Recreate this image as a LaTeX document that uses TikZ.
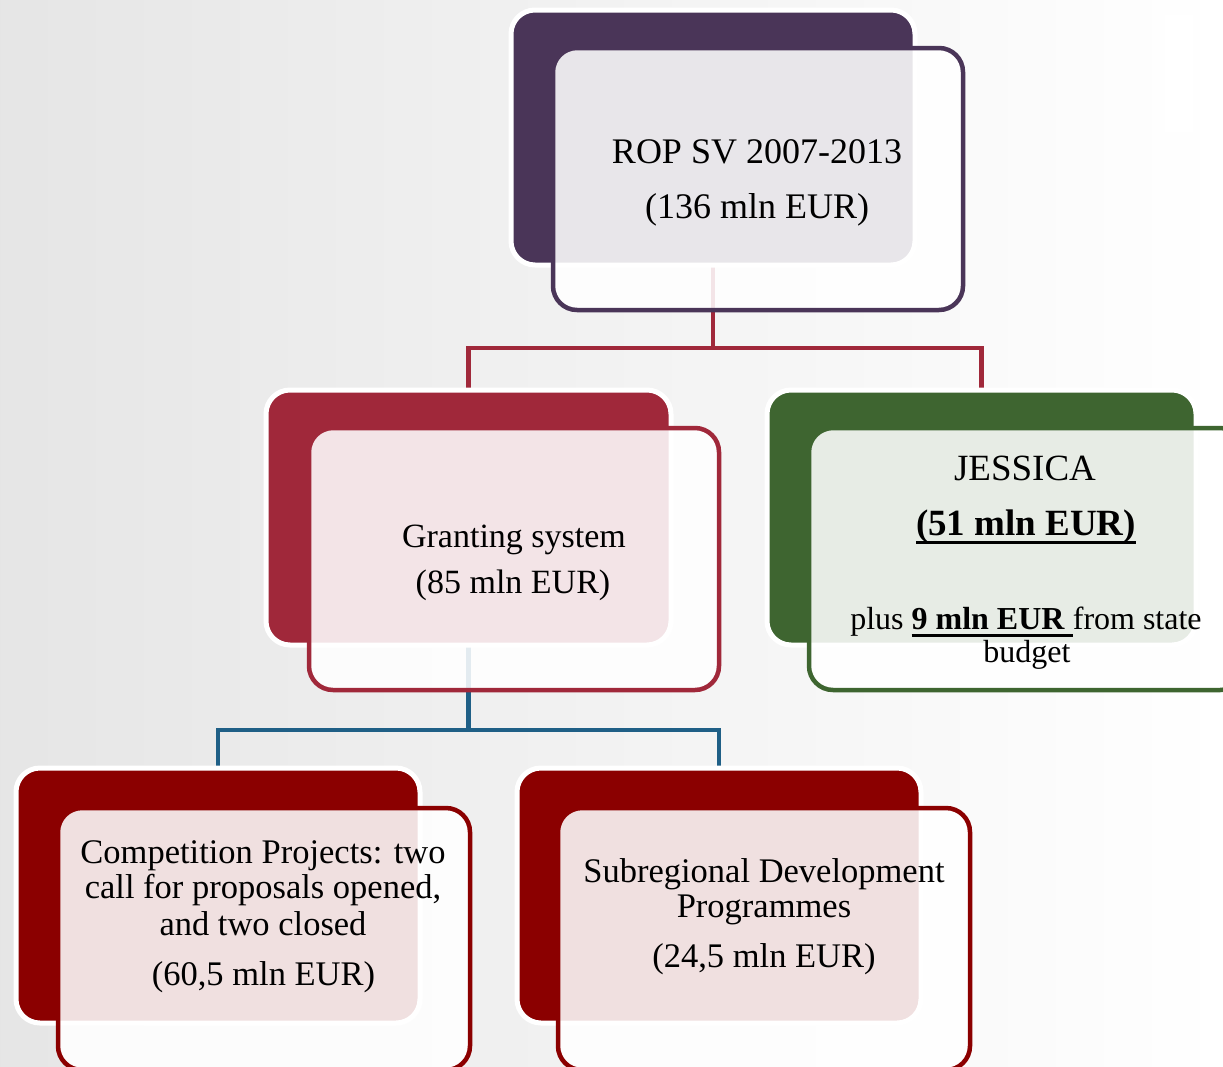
\documentclass[tikz,border=0pt]{standalone}
\usepackage{fontspec}
\setmainfont{Liberation Serif}
\definecolor{cPurple}{HTML}{4A3558}
\definecolor{cCrimson}{HTML}{A0283A}
\definecolor{cGreen}{HTML}{3E6530}
\definecolor{cDark}{HTML}{8B0000}
\definecolor{cBlue}{HTML}{1F5F86}
\newcommand\myul[2]{\setbox0\hbox{#2}\rlap{\rule[#1]{\wd0}{2.6pt}}\box0}
\pgfdeclarelayer{bglayer}
\pgfdeclarelayer{linklayer}
\pgfsetlayers{bglayer,linklayer,main}
\begin{document}
\begin{tikzpicture}[x=1pt,y=-1pt,
  backbox/.style={rectangle, rounded corners=24pt, inner sep=0pt, outer sep=0pt,
    minimum width=404pt, minimum height=255pt, fill=#1, draw=white, line width=5pt},
  frontbox/.style={rectangle, rounded corners=24pt, inner sep=0pt, outer sep=0pt,
    minimum width=410pt, minimum height=262pt, fill=white, fill opacity=0.88,
    draw=#1, draw opacity=1, line width=4.5pt},
  link/.style={line width=4.5pt, draw=#1, line join=miter},
  txt/.style={anchor=base, inner sep=0pt, text=black, font=\fontsize{#1}{#1}\selectfont}]
\useasboundingbox (0,0) rectangle (1223,1066);
\clip (0,0) rectangle (1223,1066);
\begin{pgfonlayer}{bglayer}
  \shade[left color=gray!20, right color=white] (0,0) rectangle (1223,1066);
  \fill[white] (1165,15) rectangle (1193,132);
\end{pgfonlayer}

% top
\node[backbox=cPurple] (topB) at (713,137.5) {};
\node[frontbox=cPurple] (topF) at (758,179) {};
% granting
\node[backbox=cCrimson, minimum width=405pt] (gsB) at (468.5,517.5) {};
\node[frontbox=cCrimson] (gsF) at (514,559) {};
% jessica
\node[backbox=cGreen, minimum width=429pt] (jsB) at (981.5,517.5) {};
\node[frontbox=cGreen, minimum width=435pt] (jsF) at (1026.5,559) {};
% competition
\node[backbox=cDark] (cpB) at (218,895.5) {};
\node[frontbox=cDark, minimum width=412pt] (cpF) at (264,939) {};
% subregional
\node[backbox=cDark] (sbB) at (719,895.5) {};
\node[frontbox=cDark, minimum width=412pt] (sbF) at (764,939) {};

\coordinate (jA) at (713,348);
\coordinate (jB) at (468.5,730);
\begin{pgfonlayer}{linklayer}
  \draw[link=cCrimson] (topB.south) -- (jA);
  \draw[link=cCrimson] (gsB.north) |- (jA) -| (jsB.north);
  \draw[link=cBlue] (gsB.south) -- (jB);
  \draw[link=cBlue] (cpB.north) |- (jB) -| (sbB.north);
\end{pgfonlayer}

\node[txt=36] (t1) at (757,163) {ROP SV 2007-2013};
\node[txt=36] (t2) at (757,218) {(136 mln EUR)};
\node[txt=34] (g1) at (514,547) {Granting system};
\node[txt=34] (g2) at (513,593) {(85 mln EUR)};
\node[txt=37] (j1) at (1025,480) {JESSICA};
\node[txt=37] (j2) at (1026,535) {\myul{-8.5pt}{\textbf{(51 mln EUR)}}};
\node[txt=32] (j3) at (1026,629) {plus \myul{-7.5pt}{\textbf{9 mln EUR}\ }from state};
\node[txt=32] (j4) at (1027,662) {budget};
\node[txt=34.5] (c1) at (263,863) {Competition Projects: two};
\node[txt=34.5] (c2) at (263,898) {call for proposals opened,};
\node[txt=34.5] (c3) at (263,935) {and two closed};
\node[txt=34.5] (c4) at (263.5,985) {(60,5 mln EUR)};
\node[txt=34.5] (s1) at (764,882) {Subregional Development};
\node[txt=34.5] (s2) at (764,917) {Programmes};
\node[txt=34.5] (s3) at (764,967) {(24,5 mln EUR)};
\end{tikzpicture}
\end{document}
